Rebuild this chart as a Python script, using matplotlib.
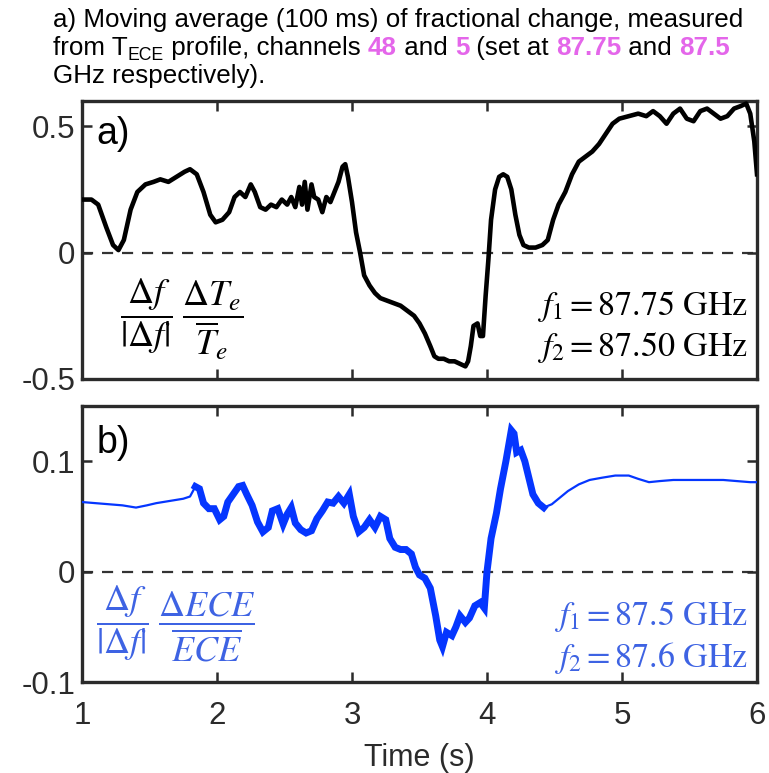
import numpy as np
import matplotlib
matplotlib.use("Agg")
import matplotlib.pyplot as plt

plt.rcParams['font.family'] = ['Liberation Sans', 'DejaVu Sans']
plt.rcParams['mathtext.fontset'] = 'stix'
plt.rcParams['axes.unicode_minus'] = False

# ---------------- data ----------------
t_a = [1.00, 1.07, 1.12, 1.18, 1.23, 1.27, 1.31, 1.36, 1.41, 1.47, 1.53, 1.58, 1.64, 1.70,
       1.76, 1.80, 1.85, 1.90, 1.95, 1.99, 2.04, 2.09, 2.13, 2.17, 2.21, 2.25, 2.28, 2.32,
       2.36, 2.40, 2.44, 2.48, 2.52, 2.55, 2.58, 2.61, 2.63, 2.65, 2.67, 2.70, 2.72, 2.75,
       2.78, 2.81, 2.84, 2.87, 2.90, 2.93, 2.95, 2.97, 3.00, 3.03, 3.06, 3.09, 3.13, 3.17,
       3.21, 3.26, 3.31, 3.36, 3.41, 3.46, 3.50, 3.54, 3.58, 3.61, 3.64, 3.68, 3.72, 3.76,
       3.80, 3.84, 3.86, 3.88, 3.90, 3.93, 3.95, 3.97, 3.99, 4.01, 4.03, 4.06, 4.09, 4.12,
       4.15, 4.18, 4.21, 4.24, 4.27, 4.31, 4.36, 4.41, 4.45, 4.49, 4.53, 4.58, 4.63, 4.68,
       4.73, 4.78, 4.83, 4.88, 4.93, 4.98, 5.05, 5.12, 5.18, 5.23, 5.28, 5.33, 5.38, 5.43,
       5.48, 5.53, 5.58, 5.63, 5.68, 5.73, 5.78, 5.83, 5.88, 5.92, 5.95, 5.98, 6.00]
v_a = [0.21, 0.21, 0.19, 0.10, 0.03, 0.01, 0.05, 0.17, 0.24, 0.27, 0.28, 0.29, 0.28, 0.30,
       0.32, 0.33, 0.31, 0.24, 0.15, 0.12, 0.13, 0.16, 0.22, 0.24, 0.22, 0.27, 0.24, 0.18,
       0.17, 0.19, 0.18, 0.21, 0.19, 0.22, 0.18, 0.26, 0.19, 0.28, 0.17, 0.27, 0.22, 0.21,
       0.16, 0.22, 0.20, 0.24, 0.28, 0.34, 0.35, 0.30, 0.20, 0.08, 0.00, -0.09, -0.13, -0.16,
       -0.18, -0.19, -0.20, -0.21, -0.23, -0.25, -0.28, -0.32, -0.37, -0.41, -0.42, -0.42, -0.43, -0.43,
       -0.44, -0.45, -0.43, -0.37, -0.29, -0.28, -0.33, -0.33, -0.17, -0.03, 0.13, 0.25, 0.30, 0.31,
       0.30, 0.25, 0.15, 0.07, 0.03, 0.02, 0.02, 0.03, 0.05, 0.13, 0.19, 0.24, 0.31, 0.36,
       0.38, 0.40, 0.43, 0.47, 0.51, 0.53, 0.54, 0.55, 0.54, 0.56, 0.54, 0.51, 0.55, 0.57,
       0.53, 0.52, 0.56, 0.57, 0.55, 0.53, 0.54, 0.57, 0.58, 0.59, 0.55, 0.44, 0.31]

t_b = [1.00, 1.10, 1.20, 1.30, 1.40, 1.48, 1.55, 1.65, 1.75, 1.80, 1.84, 1.87, 1.90, 1.94,
       1.98, 2.02, 2.05, 2.08, 2.12, 2.16, 2.19, 2.22, 2.26, 2.30, 2.34, 2.38, 2.41, 2.45,
       2.49, 2.52, 2.55, 2.58, 2.62, 2.66, 2.70, 2.74, 2.78, 2.82, 2.86, 2.90, 2.94, 2.98,
       3.01, 3.05, 3.09, 3.13, 3.17, 3.21, 3.25, 3.28, 3.32, 3.36, 3.40, 3.44, 3.47, 3.50,
       3.54, 3.58, 3.62, 3.65, 3.67, 3.70, 3.74, 3.77, 3.80, 3.84, 3.87, 3.91, 3.95, 3.98,
       4.00, 4.03, 4.07, 4.10, 4.14, 4.18, 4.20, 4.22, 4.25, 4.28, 4.31, 4.34, 4.38, 4.42,
       4.48, 4.54, 4.60, 4.68, 4.76, 4.85, 4.95, 5.05, 5.12, 5.20, 5.28, 5.38, 5.50, 5.62,
       5.75, 5.85, 5.95, 6.00]
v_b = [0.063, 0.062, 0.061, 0.060, 0.058, 0.060, 0.062, 0.064, 0.066, 0.068, 0.077, 0.075, 0.062, 0.057,
       0.057, 0.047, 0.050, 0.063, 0.070, 0.077, 0.078, 0.070, 0.060, 0.045, 0.036, 0.040, 0.055, 0.057,
       0.043, 0.052, 0.058, 0.044, 0.038, 0.035, 0.037, 0.048, 0.055, 0.063, 0.062, 0.068, 0.062, 0.070,
       0.050, 0.036, 0.040, 0.047, 0.040, 0.050, 0.047, 0.030, 0.022, 0.020, 0.020, 0.016, 0.004, -0.003,
       -0.006, -0.015, -0.040, -0.062, -0.068, -0.055, -0.058, -0.050, -0.040, -0.046, -0.042, -0.031, -0.028, -0.033,
       0.000, 0.030, 0.053, 0.075, 0.100, 0.128, 0.125, 0.108, 0.110, 0.100, 0.085, 0.070, 0.062, 0.058,
       0.061, 0.067, 0.073, 0.079, 0.083, 0.085, 0.087, 0.087, 0.084, 0.081, 0.082, 0.083, 0.083, 0.083,
       0.083, 0.082, 0.081, 0.081]

x_ticks = [1, 2, 3, 4, 5, 6]
ya_ticks = [-0.5, 0, 0.5]
ya_labels = ['-0.5', '0', '0.5']
yb_ticks = [-0.1, 0, 0.1]
yb_labels = ['-0.1', '0', '0.1']
noisy_span = (1.82, 4.42)

# ---------------- figure ----------------
W, H = 769, 773
fig = plt.figure(figsize=(W / 100, H / 100), dpi=100)

def axes_rect(l, t, r, b):
    return [l / W, 1 - b / H, (r - l) / W, (b - t) / H]

ax1 = fig.add_axes(axes_rect(82, 101, 757, 379))
ax2 = fig.add_axes(axes_rect(82, 406, 757, 682))

spine_col = '#2b2b2b'
for ax in (ax1, ax2):
    for s in ax.spines.values():
        s.set_linewidth(2.4)
        s.set_color(spine_col)
    ax.tick_params(direction='in', length=7, width=1.8, top=True, right=True,
                   labelsize=22.5, colors=spine_col)
    ax.tick_params(axis='y', pad=5)
    ax.tick_params(axis='x', pad=14)
    ax.set_xlim(1, 6)
    ax.set_xticks(x_ticks)
    ax.axhline(0, color='#333333', lw=1.6, ls=(0, (5, 4)), zorder=1)

ax1.set_ylim(-0.5, 0.6)
ax1.set_yticks(ya_ticks)
ax1.set_yticklabels(ya_labels)
ax1.set_xticklabels([])
ax1.plot(t_a, v_a, color='black', lw=3.3, solid_joinstyle='round', zorder=3)

ax2.set_ylim(-0.1, 0.15)
ax2.set_yticks(yb_ticks)
ax2.set_yticklabels(yb_labels)
ax2.set_xticklabels([str(x) for x in x_ticks])
ax2.set_xlabel('Time (s)', fontsize=22, color=spine_col, labelpad=8)

tb = np.array(t_b)
vb = np.array(v_b)
blue = '#0536ff'
ax2.plot(tb, vb, color=blue, lw=1.6, zorder=3)
m = (tb >= noisy_span[0]) & (tb <= noisy_span[1])
ax2.plot(tb[m], vb[m], color=blue, lw=5.0, solid_joinstyle='miter', zorder=3)

# panel labels
ax1.text(0.022, 0.88, 'a)', transform=ax1.transAxes, fontsize=27, va='center', ha='left')
ax2.text(0.022, 0.865, 'b)', transform=ax2.transAxes, fontsize=27, va='center', ha='left')

# formulas
ax1.text(0.147, 0.215, r'$\dfrac{\Delta f}{|\Delta f|}\;\dfrac{\Delta T_e}{\overline{T}_e}$',
         transform=ax1.transAxes, fontsize=26, ha='center', va='center')
txt_blue = '#3e63e3'
ax2.text(0.139, 0.21, r'$\dfrac{\Delta f}{|\Delta f|}\;\dfrac{\Delta ECE}{\overline{ECE}}$',
         transform=ax2.transAxes, fontsize=26, ha='center', va='center', color=txt_blue)

ax1.text(0.987, 0.259, r'$f_1 = 87.75\ \mathrm{GHz}$', transform=ax1.transAxes,
         fontsize=24.5, ha='right', va='center')
ax1.text(0.987, 0.112, r'$f_2 = 87.50\ \mathrm{GHz}$', transform=ax1.transAxes,
         fontsize=24.5, ha='right', va='center')
ax2.text(0.987, 0.236, r'$f_1 = 87.5\ \mathrm{GHz}$', transform=ax2.transAxes,
         fontsize=24.5, ha='right', va='center', color=txt_blue)
ax2.text(0.987, 0.088, r'$f_2 = 87.6\ \mathrm{GHz}$', transform=ax2.transAxes,
         fontsize=24.5, ha='right', va='center', color=txt_blue)

# ---------------- header text ----------------
mag = '#e466ea'
fs = 18.7
renderer = fig.canvas.get_renderer()

def place_line(pieces, x0, ybase):
    x = x0
    for s, kw in pieces:
        dy = kw.pop('dy', 0)
        t = fig.text(x / W, 1 - (ybase + dy) / H, s, va='baseline', ha='left', **kw)
        bb = t.get_window_extent(renderer)
        x += bb.width

reg = dict(fontsize=fs, color='black')
bold = dict(fontsize=fs, color=mag, fontweight='bold')

place_line([('a) Moving average (100 ms) of fractional change, measured', dict(reg))], 53, 27)
place_line([
    ('from T', dict(reg)),
    ('ECE', dict(fontsize=fs * 0.68, color='black', dy=5)),
    (' profile, channels ', dict(reg)),
    ('48', dict(bold)),
    (' and ', dict(reg)),
    ('5', dict(bold)),
    (' (set at ', dict(reg)),
    ('87.75', dict(bold)),
    (' and ', dict(reg)),
    ('87.5', dict(bold)),
], 53, 55)
place_line([('GHz respectively).', dict(reg))], 53, 83)

fig.savefig('out.png', dpi=100)
